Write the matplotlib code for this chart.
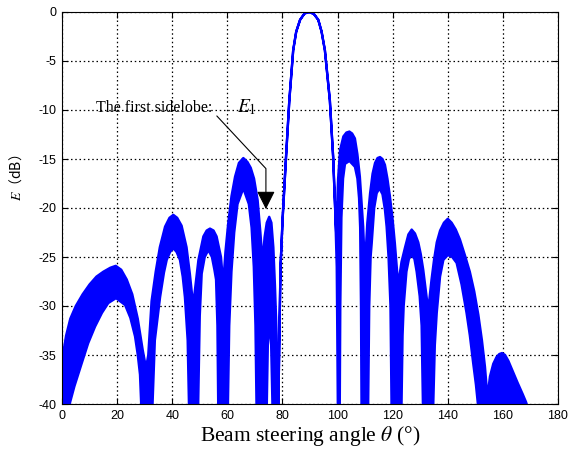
import matplotlib
matplotlib.use('Agg')
import matplotlib.pyplot as plt

# upper edge of the beam pattern band (steering angle in deg, level in dB)
theta_hi = [0, 1.5, 3, 5, 7.5, 10, 12.5, 15, 17.5, 19.5, 21.5, 23.5, 25.5, 27.5, 29.3, 30.5,
            31.3, 32.5, 34, 35.5, 37.4, 39, 40.4, 41.8, 43.4, 45.2, 46.4, 47.6,
            49.5, 51.3, 52.5, 53.7, 55, 56.1, 57.7, 58.5,
            59.3, 60.3, 61.5, 62.8, 64.2, 65.8, 67.3, 68.5, 69.7, 71.0, 72.0, 72.8,
            73.5, 74.3, 75.2, 76, 76.7, 77.3, 77.9, 78.5,
            78.9, 79.3, 80.1, 81.3, 82.5, 83.9, 85, 86.4, 88, 89.7, 91.4, 93.0, 94.2, 95.4,
            97.2, 98.4, 99.1,
            99.5, 100.2, 100.9, 102.1, 103.2, 104.3, 105.3, 106.3, 107.2, 108.1, 109.3, 109.9,
            110.8, 111.8, 112.7, 113.6, 114.5, 115.4, 116.3, 117.2, 118.1, 119, 120, 120.8, 122,
            123.2, 124.5, 125.7, 126.9, 128.1, 129.3, 130.2, 131.1, 132.9,
            134.1, 135, 136, 137.2, 138.6, 140, 141.4, 142.9, 144.4, 146.2, 148, 149.6, 151.1,
            152.4, 153.5, 154.4,
            155.3, 156.5, 157.7, 158.7, 159.7, 160.8, 162, 163.5, 165.3, 167.2, 168.4, 169.2]
e_hi = [-35.5, -33.0, -31.3, -30.0, -28.8, -27.8, -27.0, -26.5, -26.1, -25.9, -26.3, -27.3, -28.8, -31.3, -34.5, -36.3,
        -35.0, -29.5, -26.5, -24.0, -21.9, -21.0, -20.7, -21.0, -21.8, -24.0, -26.7, -29.9,
        -25.3, -22.9, -22.3, -22.1, -22.3, -22.9, -25.0, -27.7,
        -24.5, -21.6, -18.8, -16.8, -15.4, -14.9, -15.3, -15.9, -17.0, -19.2, -22.5, -25.5,
        -23.0, -21.5, -20.9, -21.5, -24.0, -28.0, -33.0, -40.5,
        -32.8, -26.0, -20.9, -14.8, -9.0, -3.9, -2.0, -0.8, -0.15, 0.0, -0.2, -0.8, -2.0, -3.9,
        -9.0, -14.8, -19.9,
        -22.5, -17.0, -14.1, -12.7, -12.3, -12.2, -12.4, -12.9, -14.5, -16.8, -21.9, -26.0,
        -21.5, -18.5, -16.5, -15.4, -14.9, -14.8, -15.0, -15.6, -17.0, -18.8, -21.2, -23.6, -27.8,
        -25.5, -24.0, -22.7, -22.2, -22.6, -23.5, -24.7, -26.3, -30.4,
        -27.3, -25.3, -23.5, -22.3, -21.5, -21.1, -21.5, -22.2, -23.2, -24.8, -26.5, -28.5, -30.9,
        -33.5, -36.2, -39.3,
        -37.2, -35.9, -35.2, -34.9, -34.8, -35.0, -35.6, -36.6, -37.8, -39.0, -39.8, -40.5]

# lower edge of the band
theta_lo = [0, 2.3, 4.5, 7.1, 9.5, 12, 14.5, 16.8, 19.6, 22.9, 24.8, 26.5, 27.5, 28.3, 28.8,
            32.8, 33.7, 35.6, 37, 38, 39.2, 40.4, 41.6, 42.8, 43.8, 44.6, 45.6, 46.1,
            49.4, 50.0, 50.7, 51.8, 53.1, 54.4, 55.3, 55.9, 56.4, 56.7,
            60.2, 60.7, 61.5, 62.5, 63.7, 65.8, 67.8, 68.8, 69.6, 70.2, 70.6,
            74.3, 74.7, 75.3, 75.9, 76.4, 78.5,
            78.9, 79.3, 80.1, 81.3, 82.5, 83.9, 85, 86.4, 88, 89.7, 91.4, 93.0, 94.2, 95.4,
            97.2, 98.4, 99.1, 99.7, 99.9, 100.1,
            100.8, 101.0, 101.4, 102, 102.7, 104.3, 106.3, 107.2, 107.8, 108.2, 108.5, 108.7,
            111.1, 111.5, 112, 112.4, 113.3, 114.2, 115.2, 116.3, 117.2, 117.8, 118.5, 119.2, 119.6,
            123.2, 123.6, 124, 125, 125.9, 126.9, 127.9, 128.7, 129.8, 130.5, 131.0,
            134.7, 135.3, 136, 137.2, 138.4, 140, 141.6, 143.2, 145, 146.8, 148, 149.2, 150.2, 151.1,
            169.2]
e_lo = [-42, -40.5, -38.2, -35.9, -33.8, -32.1, -30.7, -29.7, -29.2, -29.9, -31.2, -33.1, -35.0, -37.0, -40.5,
        -40.5, -33.5, -29.1, -26.6, -25.3, -24.5, -24.1, -24.5, -25.3, -27.0, -29.1, -33.5, -40.5,
        -40.5, -31.0, -26.7, -25.0, -24.3, -25.0, -26.3, -27.3, -32.0, -40.5,
        -40.5, -32.0, -26.5, -22.5, -19.6, -18.0, -19.6, -22.0, -26.0, -32.0, -40.5,
        -40.5, -34.0, -31.5, -34.0, -40.5, -40.5,
        -32.8, -26.0, -20.9, -14.8, -9.0, -3.9, -2.0, -0.8, -0.15, 0.0, -0.2, -0.8, -2.0, -3.9,
        -9.0, -14.8, -19.9, -26.0, -32.8, -40.5,
        -40.5, -30.0, -21.0, -17.0, -15.5, -15.2, -15.8, -17.0, -19.0, -22.0, -30.0, -40.5,
        -40.5, -30.0, -25.0, -23.6, -20.0, -18.5, -18.0, -18.6, -20.2, -21.9, -25.0, -30.0, -40.5,
        -40.5, -33.0, -30.0, -26.5, -25.2, -24.8, -25.2, -26.5, -29.0, -32.0, -40.5,
        -40.5, -34.0, -30.7, -27.0, -25.3, -24.8, -25.0, -25.6, -27.8, -30.7, -33.0, -35.8, -38.0, -40.5,
        -40.5]

xticks = list(range(0, 181, 20))
yticks = list(range(-40, 1, 5))

plt.rcParams['axes.unicode_minus'] = False
plt.rcParams['mathtext.fontset'] = 'stix'

fig = plt.figure(figsize=(5.69, 4.57), dpi=100)
ax = fig.add_axes([62 / 569, 53 / 457, 496 / 569, 392 / 457])

band_x = theta_hi + theta_lo[::-1]
band_y = e_hi + e_lo[::-1]
ax.fill(band_x, band_y, facecolor='#0000ff', edgecolor='#0000ff', lw=1.7, joinstyle='round', zorder=2)

ax.set_xlim(0, 180)
ax.set_ylim(-40, 0)
ax.set_xticks(xticks)
ax.set_yticks(yticks)
ax.set_axisbelow(True)
ax.grid(True, color='k', linestyle=(0, (1.2, 2.2)), lw=0.9)
ax.tick_params(direction='in', top=True, right=True, length=4, width=0.8, pad=4,
               labelsize=9, labelfontfamily='Liberation Sans')
for s in ax.spines.values():
    s.set_linewidth(0.8)

ax.set_xlabel(r'Beam steering angle $\theta$ (°)', family='Liberation Serif', fontsize=15.5, labelpad=2)
ax.set_ylabel(r'$E$（dB）', family=['Noto Sans CJK SC', 'DejaVu Sans'], fontsize=10)
ax.yaxis.set_label_coords(-0.077, 0.577)

# annotation for the first sidelobe
ax.text(12.5, -10.2, 'The first sidelobe:', family='Liberation Serif', fontsize=11.5)
ax.text(63.5, -10.2, r'$E_\mathrm{1}$', fontsize=14)
ax.annotate('', xy=(74, -20.4), xytext=(55.5, -10.4),
            arrowprops=dict(arrowstyle='-|>', color='k', lw=0.8, mutation_scale=28,
                            connectionstyle='angle,angleA=-47,angleB=90,rad=0'))

fig.savefig('out.png', dpi=100)
